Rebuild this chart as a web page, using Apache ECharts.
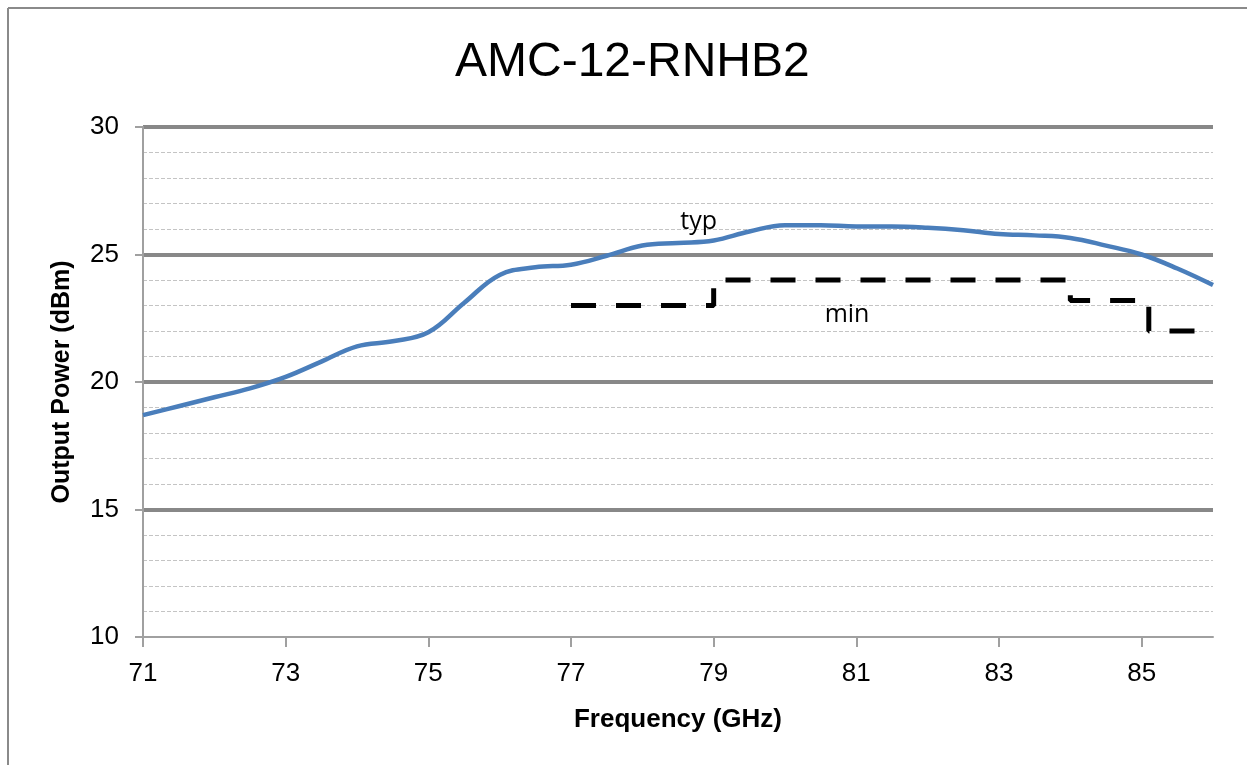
<!DOCTYPE html>
<html>
<head>
<meta charset="utf-8">
<script src="https://cdn.jsdelivr.net/npm/echarts@6/dist/echarts.min.js"></script>
<style>
  html, body { margin: 0; padding: 0; background: #fff; }
</style>
</head>
<body>
<!-- chart container -->
<div id="container" style="width: 1247px; height: 765px"></div>
<script>
// frequency points (GHz) and typical output power (dBm)
const typFreq = [71, 71.5, 72, 72.5, 73, 73.5, 74, 74.5, 75, 75.5, 76, 76.5, 77, 77.5, 78, 78.5,
  79, 79.5, 80, 80.5, 81, 81.5, 82, 82.5, 83, 83.5, 84, 84.5, 85, 85.5, 86]
const typPower = [18.7, 19.05, 19.4, 19.75, 20.2, 20.8, 21.4, 21.6, 21.95, 23.1, 24.2, 24.5, 24.6, 24.95, 25.35, 25.45,
  25.55, 25.9, 26.15, 26.15, 26.1, 26.1, 26.05, 25.95, 25.8, 25.75, 25.65, 25.35, 25.0, 24.45, 23.8]

// minimum spec (stepped)
const minFreq = [77, 79, 79, 84, 84, 85.1, 85.1, 86]
const minPower = [23, 23, 24, 24, 23.2, 23.2, 22, 22]

// series annotations
const noteText = ['typ', 'min']
const noteFreq = [78.79, 80.87]
const notePower = [26.27, 22.63]

// axis ticks
const xTicks = [71, 73, 75, 77, 79, 81, 83, 85]
const yTicks = [10, 15, 20, 25, 30]

var myChart = echarts.init(document.getElementById('container'))

const option = {
  animation: false,
  title: {
    text: 'AMC-12-RNHB2',
    left: 450,
    top: 34,
    textStyle: { fontFamily: 'Liberation Sans', fontSize: 48, fontWeight: 'normal', color: '#000' }
  },
  // frame lines at top and left
  graphic: [
    { type: 'line', shape: { x1: 8, y1: 8, x2: 1247, y2: 8 }, style: { stroke: '#8a8a8a', lineWidth: 2 } },
    { type: 'line', shape: { x1: 8, y1: 8, x2: 8, y2: 765 }, style: { stroke: '#8a8a8a', lineWidth: 2 } }
  ],
  grid: { left: 143, right: 34, top: 127, bottom: 128 },
  xAxis: {
    type: 'value',
    min: xTicks[0],
    max: 86,
    interval: 2,
    name: 'Frequency (GHz)',
    nameLocation: 'middle',
    nameGap: 70,
    nameTextStyle: { fontFamily: 'Liberation Sans', fontSize: 26, fontWeight: 'bold', color: '#000' },
    axisLine: { lineStyle: { color: '#a0a0a0', width: 2 } },
    axisTick: { length: 10, lineStyle: { color: '#a0a0a0', width: 2 } },
    axisLabel: {
      margin: 24, fontFamily: 'Liberation Sans', fontSize: 26, color: '#000',
      showMaxLabel: false
    },
    splitLine: { show: false }
  },
  yAxis: {
    type: 'value',
    min: yTicks[0],
    max: yTicks[yTicks.length - 1],
    interval: 5,
    name: 'Output Power (dBm)',
    nameLocation: 'middle',
    nameGap: 68,
    nameTextStyle: { fontFamily: 'Liberation Sans', fontSize: 25, fontWeight: 'bold', color: '#000' },
    axisLine: { show: true, lineStyle: { color: '#a0a0a0', width: 2 } },
    axisTick: { show: true, length: 8, lineStyle: { color: '#a0a0a0', width: 2 } },
    axisLabel: { margin: 24, fontFamily: 'Liberation Sans', fontSize: 26, color: '#000' },
    splitLine: { show: true, showMinLine: false, lineStyle: { color: '#888', width: 4 } },
    minorTick: { show: false, splitNumber: 5 },
    minorSplitLine: { show: true, lineStyle: { color: '#c4c4c4', width: 1, type: [4, 2] } }
  },
  series: [
    {
      name: 'typ',
      type: 'line',
      smooth: 0.4,
      symbol: 'none',
      data: typFreq.map((f, i) => [f, typPower[i]]),
      lineStyle: { color: '#4a7ebb', width: 4.5 },
      z: 3
    },
    {
      name: 'min',
      type: 'line',
      symbol: 'none',
      data: minFreq.map((f, i) => [f, minPower[i]]),
      lineStyle: { color: '#000', width: 5, type: [25, 20], cap: 'butt' },
      z: 4
    },
    {
      // text annotations (scatter defaults to 0.8 opacity, so force 1)
      type: 'scatter',
      symbolSize: 1,
      itemStyle: { color: 'rgba(0,0,0,0)', opacity: 1 },
      silent: true,
      data: noteText.map((t, i) => ({ value: [noteFreq[i], notePower[i]], name: t })),
      label: {
        show: true,
        position: 'inside',
        formatter: (p) => p.name,
        fontFamily: 'Open Sans',
        fontSize: 25,
        color: '#000',
        opacity: 1,
        textBorderWidth: 0,
        textBorderColor: 'transparent'
      },
      z: 5
    }
  ]
}

myChart.setOption(option)
</script>
</body>
</html>
